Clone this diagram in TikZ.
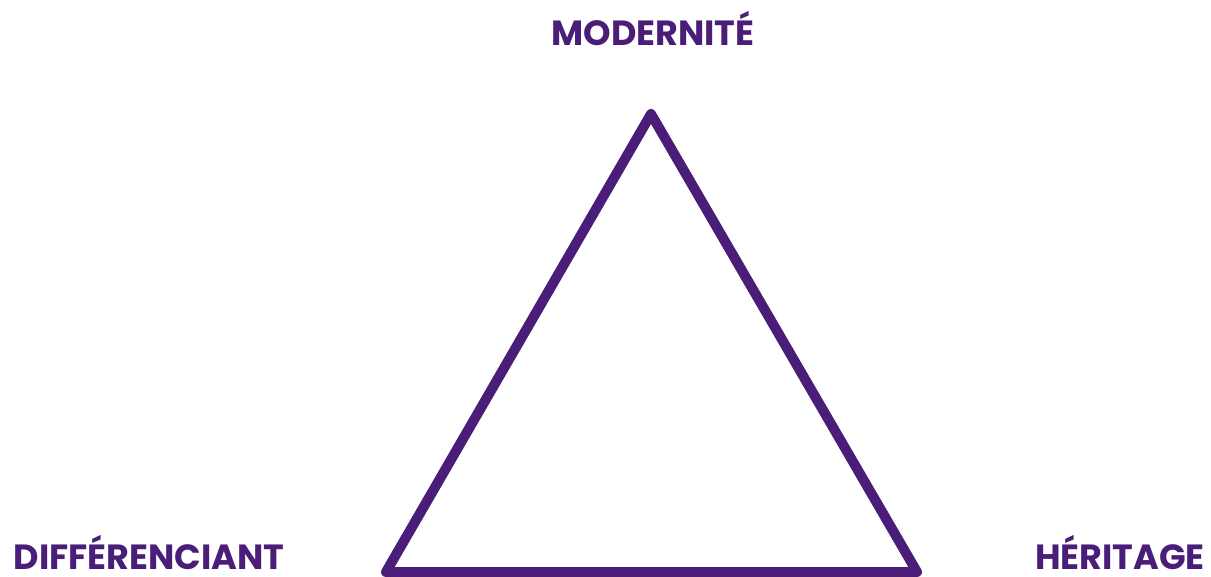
\documentclass[tikz,border=0pt]{standalone}
\usepackage{fontspec}
\setmainfont{Poppins}[BoldFont={* Bold}]
\definecolor{purp}{HTML}{4A1E78}
\begin{document}
\begin{tikzpicture}[x=1pt,y=-1pt,
  lbl/.style={text=purp,font=\fontsize{35}{35}\selectfont\bfseries,inner sep=0pt,anchor=base},
  tri/.style={draw=purp,line width=10pt,line join=round,line cap=round}]
\useasboundingbox (0,0) rectangle (1211,577);
\coordinate (A) at (651,114);
\coordinate (B) at (386,572);
\coordinate (C) at (917,572);
\draw[tri] (A) -- (B) -- (C) -- cycle;
\node[lbl] (top) at (653,46) {MODERNITÉ};
\node[lbl] (left) at (149,569) {DIFFÉRENCIANT};
\node[lbl] (right) at (1120,569) {HÉRITAGE};
\end{tikzpicture}
\end{document}
